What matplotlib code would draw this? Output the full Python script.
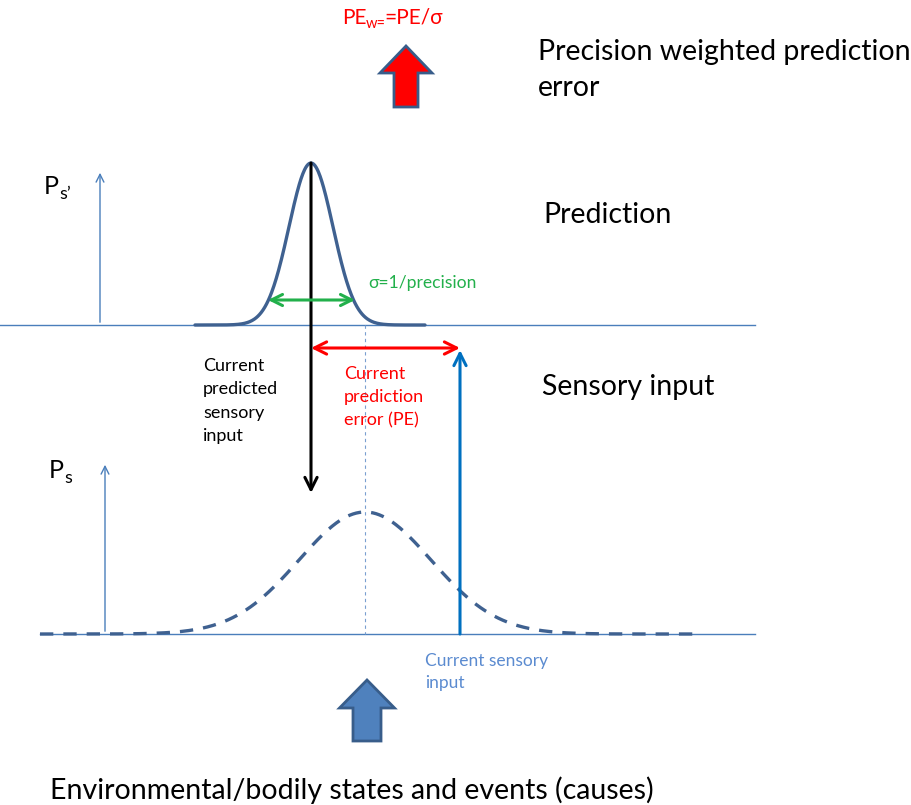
import numpy as np
import matplotlib
matplotlib.use("Agg")
import matplotlib.pyplot as plt
from matplotlib.patches import FancyArrow

plt.rcParams['font.family'] = ['Lato', 'DejaVu Sans']

# gaussian shapes (pixel units of the diagram): centre, sigma, height, baseline
pred_mu, pred_sigma, pred_height, pred_base = 311, 22, 162, 325
sens_mu, sens_sigma, sens_height, sens_base = 365, 66, 122, 634
pred_range = (195, 425)
sens_range = (40, 700)

current_input_x = 460
sigma_arrow = (268, 355, 300)

curve_col = '#3f6190'
line_col = '#4a7ebb'

fig = plt.figure(figsize=(9.12, 8.05), dpi=100)
ax = fig.add_axes([0, 0, 1, 1])
ax.set_xlim(0, 912)
ax.set_ylim(805, 0)
ax.axis('off')

# baselines
ax.plot([0, 755], [pred_base, pred_base], color=line_col, lw=1)
ax.plot([40, 755], [sens_base, sens_base], color=line_col, lw=1)

# prediction gaussian
x = np.linspace(pred_range[0], pred_range[1], 400)
y = pred_base - pred_height * np.exp(-(x - pred_mu) ** 2 / (2 * pred_sigma ** 2))
ax.plot(x, y, color=curve_col, lw=2.4, solid_capstyle='round')

# sensory gaussian (dashed)
x2 = np.linspace(sens_range[0], sens_range[1], 600)
y2 = sens_base - sens_height * np.exp(-(x2 - sens_mu) ** 2 / (2 * sens_sigma ** 2))
ax.plot(x2, y2, color=curve_col, lw=2.4, dashes=(4, 3))

# thin dashed line under sensory peak
ax.plot([sens_mu, sens_mu], [pred_base, sens_base], color='#7a9fd0', lw=0.8, dashes=(3, 3))

# axis arrows
ax.annotate('', xy=(100, 170), xytext=(100, pred_base),
            arrowprops=dict(arrowstyle='->', color=line_col, lw=1, mutation_scale=14))
ax.annotate('', xy=(105, 462), xytext=(105, sens_base),
            arrowprops=dict(arrowstyle='->', color=line_col, lw=1, mutation_scale=14))

# predicted sensory input arrow
ax.annotate('', xy=(pred_mu, 493), xytext=(pred_mu, pred_base - pred_height),
            arrowprops=dict(arrowstyle='->', color='black', lw=2.2, mutation_scale=22,
                            shrinkA=0, shrinkB=0))
# prediction error
ax.annotate('', xy=(pred_mu, 348), xytext=(current_input_x, 348),
            arrowprops=dict(arrowstyle='<->', color='#ff0000', lw=2.2, mutation_scale=22,
                            shrinkA=0, shrinkB=0))
# current sensory input
ax.annotate('', xy=(current_input_x, 350), xytext=(current_input_x, sens_base),
            arrowprops=dict(arrowstyle='->', color='#0070c0', lw=2.2, mutation_scale=22,
                            shrinkA=0, shrinkB=0))
# sigma
ax.annotate('', xy=(sigma_arrow[0], sigma_arrow[2]), xytext=(sigma_arrow[1], sigma_arrow[2]),
            arrowprops=dict(arrowstyle='<->', color='#22b04b', lw=2.2, mutation_scale=20,
                            shrinkA=0, shrinkB=0))

# block arrows
ax.add_patch(FancyArrow(406, 107, 0, -61, width=24, head_width=52, head_length=27,
                        length_includes_head=True, facecolor='#ff0000',
                        edgecolor='#385d8a', lw=2))
ax.add_patch(FancyArrow(367, 741, 0, -61, width=28, head_width=55, head_length=28,
                        length_includes_head=True, facecolor='#4f81bd',
                        edgecolor='#385d8a', lw=2))

# texts
big = 20.5
ax.text(44, 186, 'P', fontsize=18, va='center', ha='left')
ax.text(59, 194, "s\u2019", fontsize=13, va='center', ha='left')
ax.text(49, 470, 'P', fontsize=18, va='center', ha='left')
ax.text(64, 478, 's', fontsize=13, va='center', ha='left')

ax.text(342, 18, 'PE', fontsize=15, color='#ff0000', va='center', ha='left')
ax.text(366, 24, 'w=', fontsize=10.5, color='#ff0000', va='center', ha='left')
ax.text(384, 18, '=PE/\u03c3', fontsize=15, color='#ff0000', va='center', ha='left')

ax.text(538, 70, 'Precision weighted prediction\nerror', fontsize=big, va='center',
        ha='left', linespacing=1.5)
ax.text(543, 215, 'Prediction', fontsize=big, va='center', ha='left')
ax.text(542, 387, 'Sensory input', fontsize=big, va='center', ha='left')
ax.text(50, 790, 'Environmental/bodily states and events (causes)', fontsize=big,
        va='center', ha='left')

ax.text(203, 401, 'Current\npredicted\nsensory\ninput', fontsize=13, va='center',
        ha='left', linespacing=1.55)
ax.text(344, 397, 'Current\nprediction\nerror (PE)', fontsize=13, color='#ff0000',
        va='center', ha='left', linespacing=1.55)
ax.text(368, 283, '\u03c3=1/precision', fontsize=12.6, color='#22b04b', va='center', ha='left')
ax.text(425, 672, 'Current sensory\ninput', fontsize=12.5, color='#5b8bd0', va='center',
        ha='left', linespacing=1.4)

fig.savefig('out.png', dpi=100)
